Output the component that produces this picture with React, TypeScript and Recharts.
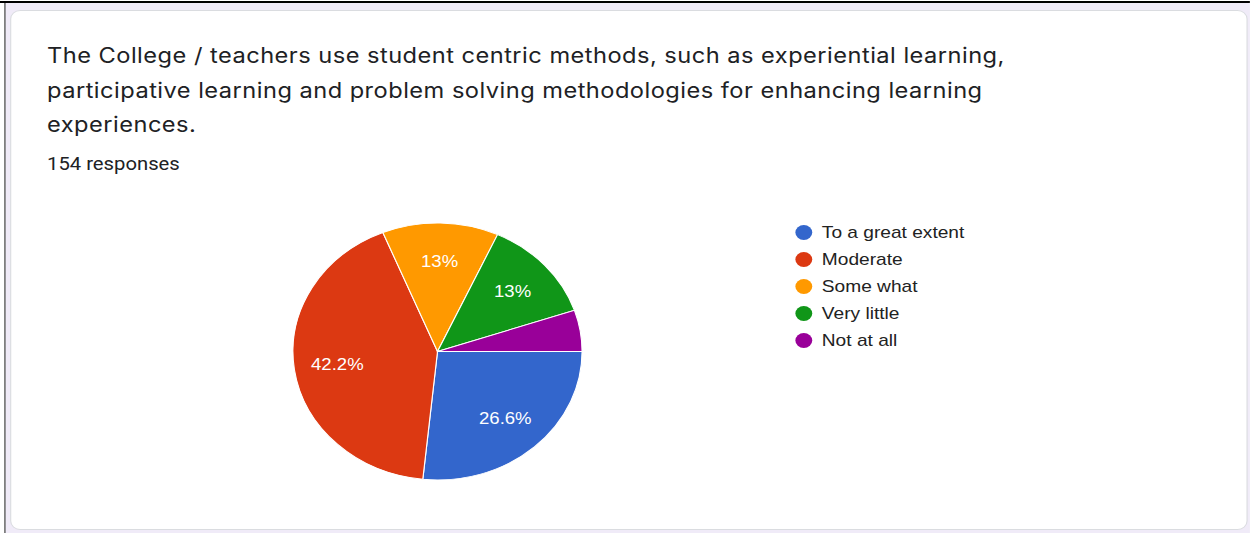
import React from "react";
import { PieChart, Pie, Cell } from "recharts";

const categories = ["To a great extent", "Moderate", "Some what", "Very little", "Not at all"];
const counts = [41, 65, 20, 20, 8];
const percentLabels = ["26.6%", "42.2%", "13%", "13%", ""];
const colors = ["#3366cc", "#dc3912", "#ff9900", "#109618", "#990099"];
const titleLines = [
  "The College / teachers use student centric methods, such as experiential learning,",
  "participative learning and problem solving methodologies for enhancing learning",
  "experiences.",
];
const responsesText = "154 responses";

const data = categories.map((name, i) => ({ name, value: counts[i], label: percentLabels[i] }));

const RAD = Math.PI / 180;

const renderLabel = (props: any) => {
  const { cx, cy, midAngle, outerRadius, index } = props;
  const text = percentLabels[index];
  if (!text) return null;
  const r = outerRadius * 0.7;
  const x = cx + r * Math.cos(-midAngle * RAD);
  const y = cy + r * Math.sin(-midAngle * RAD);
  return (
    <text
      x={x}
      y={y}
      fill="#ffffff"
      textAnchor="middle"
      dominantBaseline="central"
      fontFamily="Arial, 'Liberation Sans', sans-serif"
      fontSize={16.5}
    >
      {text}
    </text>
  );
};

const LegendBlock = () => (
  <div style={{ fontFamily: "Arial, 'Liberation Sans', sans-serif", fontSize: 17, color: "#222222" }}>
    {categories.map((c, i) => (
      <div key={c} style={{ display: "flex", alignItems: "center", height: 27 }}>
        <span
          style={{
            display: "inline-block",
            width: 15,
            height: 15,
            borderRadius: "50%",
            background: colors[i],
            marginRight: 9,
            flex: "none",
          }}
        />
        <span>{c}</span>
      </div>
    ))}
  </div>
);

export default function App() {
  const W = 1250 / 1.125;
  return (
    <div
      style={{
        position: "fixed",
        left: 0,
        top: 0,
        width: W,
        height: 533,
        transform: "scaleX(1.125)",
        transformOrigin: "0 0",
        background: "#ffffff",
        overflow: "hidden",
      }}
    >
      <div style={{ position: "absolute", left: 0, top: 1, width: "100%", height: 2, background: "#000" }} />
      <div style={{ position: "absolute", left: 3.6, top: 1, width: 1.8, bottom: 0, background: "#000" }} />
      <div style={{ position: "absolute", left: 5.4, top: 3, right: 0, bottom: 0, background: "#f0ebf8" }} />
      <div
        style={{
          position: "absolute",
          left: 8.9,
          top: 10,
          width: 1100,
          height: 520,
          background: "#ffffff",
          border: "1px solid #dadce0",
          borderRadius: 9,
          boxSizing: "border-box",
        }}
      />
      <div
        style={{
          position: "absolute",
          left: 41.8,
          top: 39,
          fontFamily: "Inter, Roboto, sans-serif",
          fontSize: 21,
          letterSpacing: 0.42,
          lineHeight: "34.5px",
          color: "#202124",
          whiteSpace: "nowrap",
        }}
      >
        {titleLines.map((l) => (
          <div key={l}>{l}</div>
        ))}
      </div>
      <div
        style={{
          position: "absolute",
          left: 41.8,
          top: 152,
          fontFamily: "Roboto, sans-serif",
          fontSize: 18,
          lineHeight: "24px",
          color: "#202124",
          whiteSpace: "nowrap",
        }}
      >
        {responsesText}
      </div>
      <div style={{ position: "absolute", left: 0, top: 0 }}>
        <PieChart width={W} height={533} margin={{ top: 0, right: 0, bottom: 0, left: 0 }}>
          <Pie
            data={data}
            dataKey="value"
            nameKey="name"
            cx={388.9}
            cy={351.5}
            outerRadius={128.5}
            startAngle={0}
            endAngle={-360}
            stroke="#ffffff"
            strokeWidth={1}
            label={renderLabel}
            labelLine={false}
            isAnimationActive={false}
          >
            {data.map((d, i) => (
              <Cell key={d.name} fill={colors[i]} />
            ))}
          </Pie>
        </PieChart>
      </div>
      <div style={{ position: "absolute", left: 706.5, top: 219 }}>
        <LegendBlock />
      </div>
    </div>
  );
}
